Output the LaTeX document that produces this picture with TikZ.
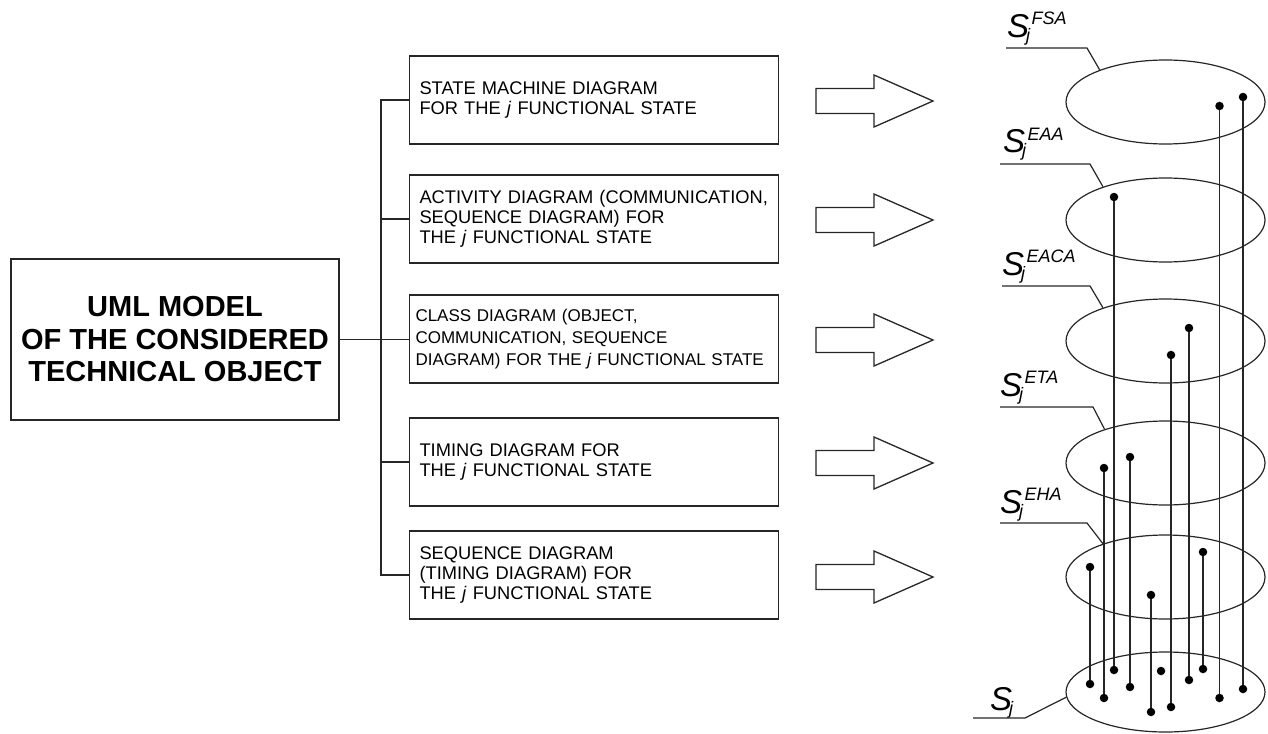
\documentclass[tikz,border=0pt]{standalone}
\usepackage{fontspec}
\setmainfont{Liberation Sans}
\usetikzlibrary{shapes.geometric}
\newcommand\Slab[1]{{\fontsize{33}{33}\selectfont\itshape S}\kern-3pt\raisebox{-4pt}{\fontsize{18}{18}\selectfont\itshape j}\kern1.5pt\raisebox{13pt}{\fontsize{18}{18}\selectfont\itshape #1}}
\begin{document}
\begin{tikzpicture}[x=1pt,y=-1pt,line join=miter,
  ln/.style={draw=black!85, line width=1.3pt},
  box/.style={ln, minimum width=369pt, minimum height=88pt, text width=349pt, inner xsep=10pt, inner ysep=0pt, align=left, font=\fontsize{18.3}{20}\selectfont},
  conn/.style={draw=black!85, line width=1.3pt},
  ell/.style={ellipse, draw=black!85, line width=1.2pt, minimum width=199pt, minimum height=84pt, inner sep=0pt},
  dot/.style={circle, fill=black, inner sep=0pt, minimum size=8.5pt},
  vline/.style={draw=black!85, line width=1.3pt},
  lab/.style={anchor=base west, inner sep=0pt},
  bigarrow/.pic={\draw[draw=black!85, line width=1.3pt] (-58,-12.5) -- (0,-12.5) -- (0,-26) -- (59,0) -- (0,26) -- (0,12.5) -- (-58,12.5) -- cycle;}
]
\useasboundingbox (0,0) rectangle (1268,733);

% main box
\node[ln, minimum width=328pt, minimum height=161pt, align=center, inner sep=0pt,
  font=\fontsize{29}{32.5}\selectfont\bfseries] (uml) at (175,339.5)
  {UML MODEL\\OF THE CONSIDERED\\TECHNICAL OBJECT};

% diagram boxes
\node[box] (b1) at (594,100) {STATE MACHINE DIAGRAM\\FOR THE \textit{j} FUNCTIONAL STATE};
\node[box] (b2) at (594,219) {ACTIVITY DIAGRAM (COMMUNICATION,\\SEQUENCE DIAGRAM) FOR\\THE \textit{j} FUNCTIONAL STATE};
\node[box, text width=357pt, inner xsep=6pt, font=\fontsize{17}{22}\selectfont] (b3) at (594,339) {CLASS DIAGRAM (OBJECT,\\COMMUNICATION, SEQUENCE\\\mbox{DIAGRAM) FOR THE \textit{j} FUNCTIONAL STATE}};
\node[box] (b4) at (594,462) {TIMING DIAGRAM FOR\\THE \textit{j} FUNCTIONAL STATE};
\node[box] (b5) at (594,575) {SEQUENCE DIAGRAM\\(TIMING DIAGRAM) FOR\\THE \textit{j} FUNCTIONAL STATE};

% bus
\coordinate (bus) at (381,0);
\draw[conn] (b1.west) -- (b1.west -| bus) -- (b5.west -| bus) -- (b5.west);
\draw[conn] (b2.west) -- (b2.west -| bus);
\draw[conn] (uml.east) -- (uml.east -| b3.west);
\draw[conn] (b4.west) -- (b4.west -| bus);

% big arrows
\pic at (874,101) {bigarrow};
\pic at (874,220) {bigarrow};
\pic at (874,340) {bigarrow};
\pic at (874,463) {bigarrow};
\pic at (874,577) {bigarrow};

% ellipses
\node[ell] (e1) at (1165.5,102) {};
\node[ell] (e2) at (1165.5,220) {};
\node[ell] (e3) at (1165.5,341) {};
\node[ell] (e4) at (1165.5,463) {};
\node[ell] (e5) at (1165.5,577) {};
\node[ell, minimum height=80pt] (e6) at (1165.5,692) {};

% labels
\node[lab] (s1) at (1007,38) {\Slab{FSA}};
\node[lab] (s2) at (1003,153) {\Slab{EAA}};
\node[lab] (s3) at (1002,275) {\Slab{EACA}};
\node[lab] (s4) at (1000,396) {\Slab{ETA}};
\node[lab] (s5) at (1000,513) {\Slab{EHA}};
\node[lab] (s6) at (990,710) {\Slab{}};

\coordinate (k1) at (1006,48);
\coordinate (k2) at (1000,164);
\coordinate (k3) at (1002,286);
\coordinate (k4) at (1000,407);
\coordinate (k5) at (1000,523);
\coordinate (k6) at (973,718);
\draw[conn,line width=1.2pt] (k1) -- ++(81,0) -- (e1.154);
\draw[conn,line width=1.2pt] (k2) -- ++(90,0) -- (e2.152);
\draw[conn,line width=1.2pt] (k3) -- ++(88,0) -- (e3.152);
\draw[conn,line width=1.2pt] (k4) -- ++(93,0) -- (e4.151);
\draw[conn,line width=1.2pt] (k5) -- ++(87,0) -- (e5.152);
\draw[conn,line width=1.2pt] (k6) -- ++(52,0) -- (e6.183);

% dots and verticals
\node[dot] (t1) at (1219.5,106) {}; \node[dot] (u1) at (1219.5,698) {};
\node[dot] (t2) at (1243,97) {};    \node[dot] (u2) at (1243,689) {};
\node[dot] (t3) at (1114,197) {};   \node[dot] (u3) at (1114,670) {};
\node[dot] (t4) at (1189,328) {};   \node[dot] (u4) at (1189,680) {};
\node[dot] (t5) at (1171,355) {};   \node[dot] (u5) at (1171,707) {};
\node[dot] (t6) at (1104,468) {};   \node[dot] (u6) at (1104,698) {};
\node[dot] (t7) at (1130,457) {};   \node[dot] (u7) at (1130,687) {};
\node[dot] (t8) at (1090,567) {};   \node[dot] (u8) at (1090,684) {};
\node[dot] (t9) at (1203,552) {};   \node[dot] (u9) at (1203,669) {};
\node[dot] (t10) at (1151,595) {};  \node[dot] (u10) at (1151,712) {};
\node[dot] (u11) at (1161,671) {};
\foreach \i in {1,...,10} { \draw[vline] (t\i) -- (u\i); }
\end{tikzpicture}
\end{document}
